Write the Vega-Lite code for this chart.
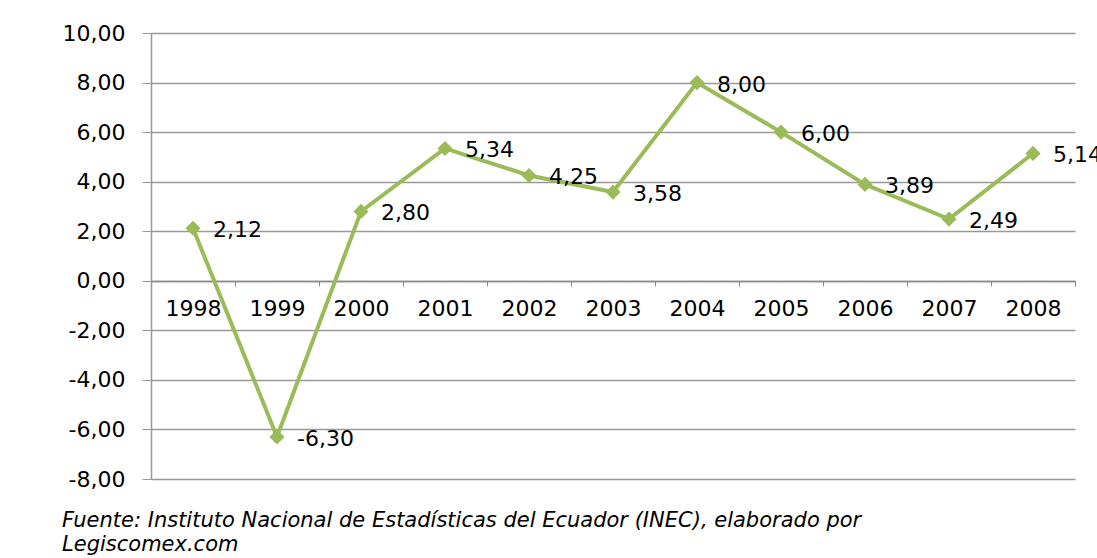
{
  "$schema": "https://vega.github.io/schema/vega-lite/v6.json",
  "width": 924,
  "height": 446,
  "autosize": {"type": "none"},
  "padding": {"left": 151, "top": 33, "right": 22, "bottom": 79},
  "background": "white",
  "config": {
    "locale": {"number": {"decimal": ",", "thousands": ".", "grouping": [3], "currency": ["", ""], "minus": "-"}},
    "view": {"stroke": null},
    "font": "DejaVu Sans"
  },
  "title": {
    "text": ["Fuente: Instituto Nacional de Estadísticas del Ecuador (INEC), elaborado por", "Legiscomex.com"],
    "orient": "bottom",
    "anchor": "start",
    "frame": "bounds",
    "font": "DejaVu Sans",
    "fontSize": 21,
    "fontStyle": "italic",
    "fontWeight": "normal",
    "color": "black",
    "lineHeight": 24,
    "offset": 20
  },
  "data": {
    "values": [
      {"year": "1998", "value": 2.12},
      {"year": "1999", "value": -6.30},
      {"year": "2000", "value": 2.80},
      {"year": "2001", "value": 5.34},
      {"year": "2002", "value": 4.25},
      {"year": "2003", "value": 3.58},
      {"year": "2004", "value": 8.00},
      {"year": "2005", "value": 6.00},
      {"year": "2006", "value": 3.89},
      {"year": "2007", "value": 2.49},
      {"year": "2008", "value": 5.14}
    ]
  },
  "encoding": {
    "x": {
      "field": "year",
      "type": "ordinal",
      "scale": {"type": "band", "paddingInner": 0, "paddingOuter": 0},
      "axis": {
        "title": null,
        "orient": "bottom",
        "offset": -198,
        "labelAngle": 0,
        "labelFont": "DejaVu Sans",
        "labelFontSize": 22,
        "labelColor": "black",
        "labelPadding": 12,
        "tickBand": "extent",
        "tickSize": 5,
        "tickColor": "#888888",
        "domainColor": "#888888",
        "domainWidth": 1.5
      }
    },
    "y": {
      "field": "value",
      "type": "quantitative",
      "scale": {"domain": [-8, 10], "nice": false, "zero": false},
      "axis": {
        "title": null,
        "values": [-8, -6, -4, -2, 0, 2, 4, 6, 8, 10],
        "format": ".2f",
        "labelFont": "DejaVu Sans",
        "labelFontSize": 22,
        "labelColor": "black",
        "labelPadding": 17,
        "tickSize": 9,
        "tickColor": "#999999",
        "domainColor": "#999999",
        "domainWidth": 1.5,
        "grid": true,
        "gridColor": "#999999",
        "gridWidth": 1.5
      }
    }
  },
  "layer": [
    {
      "mark": {"type": "line", "color": "#9BBB59", "strokeWidth": 4, "point": {"shape": "diamond", "size": 230, "filled": true, "color": "#9BBB59"}}
    },
    {
      "mark": {"type": "text", "align": "left", "baseline": "middle", "dx": 20, "dy": 2, "fontSize": 22, "font": "DejaVu Sans", "color": "black"},
      "encoding": {"text": {"field": "value", "type": "quantitative", "format": ".2f"}}
    }
  ]
}
